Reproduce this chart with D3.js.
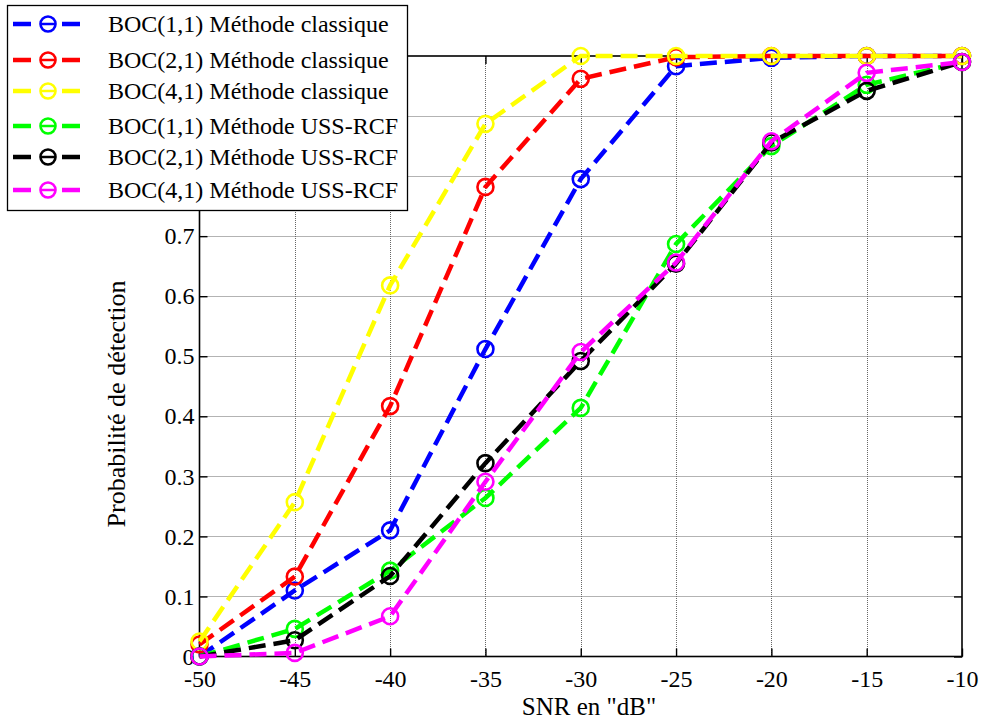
<!DOCTYPE html>
<html>
<head>
<meta charset="utf-8">
<script src="https://cdn.jsdelivr.net/npm/d3@7"></script>
<style>
  body { margin: 0; background: #fff; }
  svg { display: block; }
  text { font-family: "Liberation Serif", "Times New Roman", serif; fill: #000; }
</style>
</head>
<body>
<svg id="chart" width="982" height="721"></svg>
<script>
const snr = [-50, -45, -40, -35, -30, -25, -20, -15, -10];

const boc11Classique = [0.0, 0.110, 0.210, 0.512, 0.795, 0.983, 0.997, 1.0, 1.0];
const boc21Classique = [0.02, 0.133, 0.417, 0.782, 0.962, 0.998, 1.0, 1.0, 1.0];
const boc41Classique = [0.025, 0.257, 0.618, 0.887, 1.0, 1.0, 1.0, 1.0, 1.0];
const boc11USS = [0.0, 0.046, 0.143, 0.264, 0.414, 0.687, 0.850, 0.952, 0.990];
const boc21USS = [0.0, 0.027, 0.134, 0.322, 0.492, 0.654, 0.856, 0.942, 0.990];
const boc41USS = [0.0, 0.006, 0.067, 0.291, 0.507, 0.656, 0.858, 0.972, 0.990];

const seriesNames = [
  "BOC(1,1) Méthode classique",
  "BOC(2,1) Méthode classique",
  "BOC(4,1) Méthode classique",
  "BOC(1,1) Méthode USS-RCF",
  "BOC(2,1) Méthode USS-RCF",
  "BOC(4,1) Méthode USS-RCF"
];
const seriesColors = ["#0000ff", "#ff0000", "#ffff00", "#00ff00", "#000000", "#ff00ff"];
const seriesValues = [boc11Classique, boc21Classique, boc41Classique, boc11USS, boc21USS, boc41USS];

const xTicks = [-50, -45, -40, -35, -30, -25, -20, -15, -10];
const xTickLabels = ["-50", "-45", "-40", "-35", "-30", "-25", "-20", "-15", "-10"];
const yTicks = [0, 0.1, 0.2, 0.3, 0.4, 0.5, 0.6, 0.7, 0.8, 0.9, 1.0];
// labels of 0.8, 0.9 and 1 are hidden behind the legend in the reference
const yTickLabels = ["0", "0.1", "0.2", "0.3", "0.4", "0.5", "0.6", "0.7", "", "", ""];

const xLabel = 'SNR en "dB"';
const yLabel = "Probabilité de détection";

const svg = d3.select("#chart");
const L = 199.5, R = 962, T = 56, B = 656.5;

const x = d3.scaleLinear().domain([-50, -10]).range([L, R]);
const y = d3.scaleLinear().domain([0, 1]).range([B, T]);

svg.append("rect").attr("x", 0).attr("y", 0).attr("width", 982).attr("height", 721).attr("fill", "#fff");

// grid
const grid = svg.append("g");
grid.selectAll("line.gx").data(xTicks.slice(1, -1)).enter().append("line")
  .attr("x1", d => Math.round(x(d)) + 0.5).attr("x2", d => Math.round(x(d)) + 0.5)
  .attr("y1", T).attr("y2", B)
  .attr("stroke", "#666").attr("stroke-width", 1).attr("stroke-dasharray", "1,1");
grid.selectAll("line.gy").data(yTicks.slice(1, -1)).enter().append("line")
  .attr("y1", d => Math.round(y(d)) + 0.5).attr("y2", d => Math.round(y(d)) + 0.5)
  .attr("x1", L).attr("x2", R)
  .attr("stroke", "#666").attr("stroke-width", 1).attr("stroke-dasharray", "1,1");

// frame
svg.append("rect").attr("x", L).attr("y", T).attr("width", R - L).attr("height", B - T)
  .attr("fill", "none").attr("stroke", "#000").attr("stroke-width", 1.6);

// axes (ticks inward)
const xAxisB = d3.axisBottom(x).tickValues(xTicks).tickSize(-8).tickFormat((d, i) => xTickLabels[i]);
const gxB = svg.append("g").attr("transform", `translate(0,${B})`).call(xAxisB);
gxB.select(".domain").remove();
gxB.selectAll("line").attr("stroke", "#000").attr("stroke-width", 1.4);
gxB.selectAll("text").attr("font-size", 24).attr("font-family", "Liberation Serif")
  .attr("dy", null).attr("y", 30);

const xAxisT = d3.axisTop(x).tickValues(xTicks).tickSize(-8).tickFormat("");
const gxT = svg.append("g").attr("transform", `translate(0,${T})`).call(xAxisT);
gxT.select(".domain").remove();
gxT.selectAll("line").attr("stroke", "#000").attr("stroke-width", 1.4);

const yAxisL = d3.axisLeft(y).tickValues(yTicks).tickSize(-8).tickFormat((d, i) => yTickLabels[i]);
const gyL = svg.append("g").attr("transform", `translate(${L},0)`).call(yAxisL);
gyL.select(".domain").remove();
gyL.selectAll("line").attr("stroke", "#000").attr("stroke-width", 1.4);
gyL.selectAll("text").attr("font-size", 24).attr("font-family", "Liberation Serif").attr("x", -5);

const yAxisR = d3.axisRight(y).tickValues(yTicks).tickSize(-8).tickFormat("");
const gyR = svg.append("g").attr("transform", `translate(${R},0)`).call(yAxisR);
gyR.select(".domain").remove();
gyR.selectAll("line").attr("stroke", "#000").attr("stroke-width", 1.4);

// series
const line = d3.line().x((d, i) => x(snr[i])).y(d => y(d));
const plot = svg.append("g");
seriesValues.forEach((vals, si) => {
  const g = plot.append("g");
  g.append("path").datum(vals).attr("d", line)
    .attr("fill", "none").attr("stroke", seriesColors[si]).attr("stroke-width", 4.5)
    .attr("stroke-dasharray", "17,8");
  g.selectAll("circle").data(vals).enter().append("circle")
    .attr("cx", (d, i) => x(snr[i])).attr("cy", d => y(d)).attr("r", 8)
    .attr("fill", "none").attr("stroke", seriesColors[si]).attr("stroke-width", 2.6);
});

// axis titles
svg.append("text").attr("x", 589).attr("y", 715).attr("text-anchor", "middle")
  .attr("font-size", 25).text(xLabel);
svg.append("text").attr("transform", "translate(125,404) rotate(-90)").attr("text-anchor", "middle")
  .attr("font-size", 26).text(yLabel);

// legend
const leg = svg.append("g");
leg.append("rect").attr("x", 7.5).attr("y", 5.5).attr("width", 400).attr("height", 205)
  .attr("fill", "#fff").attr("stroke", "#000").attr("stroke-width", 1.3);
const rowY = [24, 60, 91, 126, 157, 190];
seriesNames.forEach((name, i) => {
  const gy = rowY[i];
  const gl = leg.append("g");
  gl.append("line").attr("x1", 13).attr("x2", 80).attr("y1", gy).attr("y2", gy)
    .attr("stroke", seriesColors[i]).attr("stroke-width", 4.5).attr("stroke-dasharray", "18,31");
  gl.append("circle").attr("cx", 48).attr("cy", gy).attr("r", 7.5)
    .attr("fill", "none").attr("stroke", seriesColors[i]).attr("stroke-width", 2.6);
  gl.append("line").attr("x1", 41).attr("x2", 55).attr("y1", gy).attr("y2", gy)
    .attr("stroke", seriesColors[i]).attr("stroke-width", 2.5);
  gl.append("text").attr("x", 108).attr("y", gy).attr("dy", "0.33em")
    .attr("font-size", 24).text(name);
});
</script>
</body>
</html>
